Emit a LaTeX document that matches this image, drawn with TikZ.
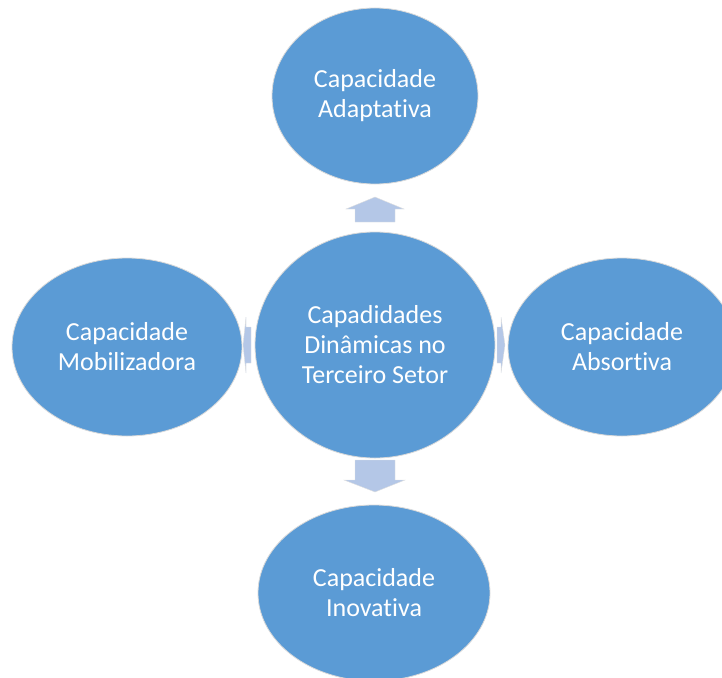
\documentclass[tikz,border=0pt]{standalone}
\usepackage{fontspec}
\setmainfont{Carlito}[Ligatures=NoCommon]
\usetikzlibrary{shapes.geometric}
\definecolor{ellblue}{HTML}{5B9BD5}
\definecolor{arrblue}{HTML}{B4C7E7}
\tikzset{
  circ/.style={ellipse, fill=ellblue, draw=black!15, line width=0.8pt, inner sep=0pt,
    text=white, align=center, font=\fontsize{26}{30}\selectfont},
  blockarrow/.style={fill=arrblue, draw=black!12, line width=0.4pt}
}
\begin{document}
\begin{tikzpicture}[x=1pt,y=-1pt]
\useasboundingbox (0,0) rectangle (722,677);
\node[circ, minimum width=206, minimum height=176] (top) at (375,96) {Capacidade\\Adaptativa};
\node[circ, minimum width=230, minimum height=178] (left) at (127,347) {Capacidade\\Mobilizadora};
\node[circ, minimum width=240, minimum height=226] (center) at (375,345) {Capadidades\\Dinâmicas no\\Terceiro Setor};
\node[circ, minimum width=228, minimum height=178] (right) at (622,347) {Capacidade\\Absortiva};
\node[circ, minimum width=232, minimum height=176] (bottom) at (374,593) {Capacidade\\Inovativa};
% up arrow (center -> top)
\draw[blockarrow] (355,222) -- (355,209) -- (346,209) -- (375,197) -- (404,209) -- (395,209) -- (395,222) -- cycle;
% down arrow (center -> bottom)
\draw[blockarrow] (355,460) -- (355,480) -- (344,480) -- (375,492) -- (405,480) -- (395,480) -- (395,460) -- cycle;
% left arrow (center -> left)
\draw[blockarrow] (251,327) -- (246,327) -- (246,317) -- (243,345) -- (246,373) -- (246,363) -- (251,363) -- cycle;
% right arrow (center -> right)
\draw[blockarrow] (497,327) -- (501,327) -- (501,317) -- (505,345) -- (501,373) -- (501,363) -- (497,363) -- cycle;
\end{tikzpicture}
\end{document}
